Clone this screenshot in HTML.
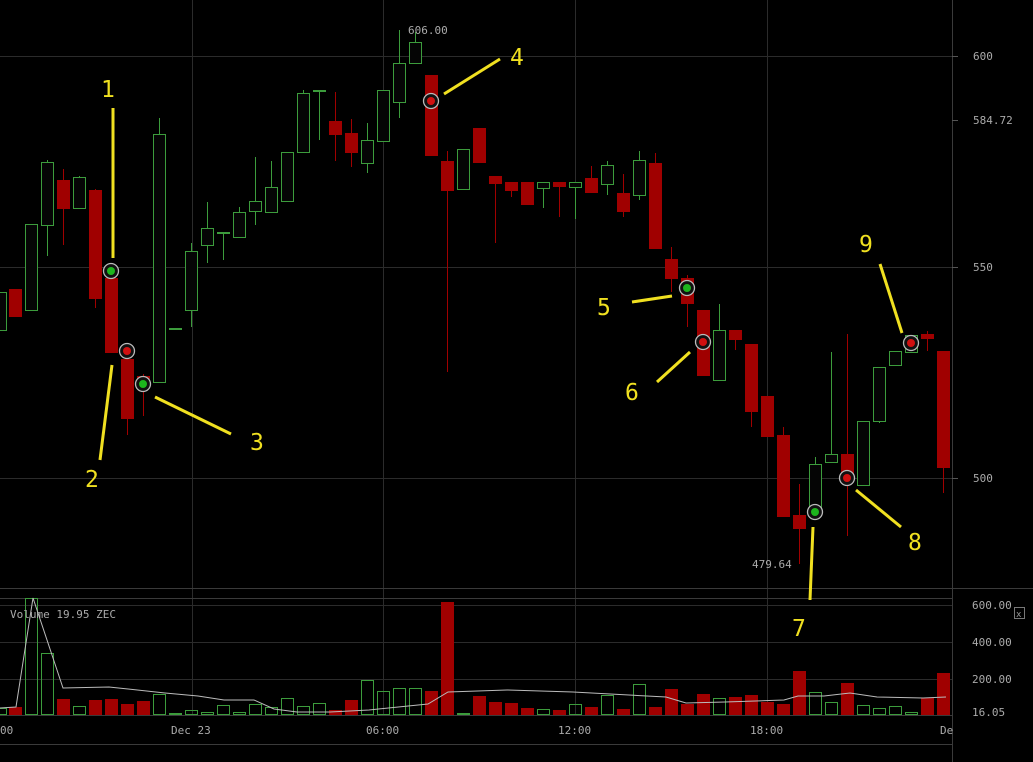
<!DOCTYPE html>
<html><head><meta charset="utf-8"><style>
html,body{margin:0;padding:0;background:#000;width:1033px;height:762px;overflow:hidden}
svg{display:block}
text{font-family:"DejaVu Sans Mono","Liberation Mono",monospace}
</style></head><body>
<svg id="s" width="1033" height="762" xmlns="http://www.w3.org/2000/svg">
<rect width="1033" height="762" fill="#000"/>
<g stroke="#2b2b2b" stroke-width="1">
<line x1="0" y1="56.5" x2="952" y2="56.5"/><line x1="0" y1="267.5" x2="952" y2="267.5"/><line x1="0" y1="478.5" x2="952" y2="478.5"/>
<line x1="192.5" y1="0" x2="192.5" y2="715"/><line x1="383.5" y1="0" x2="383.5" y2="715"/><line x1="575.5" y1="0" x2="575.5" y2="715"/><line x1="767.5" y1="0" x2="767.5" y2="715"/>
<line x1="0" y1="605.5" x2="952" y2="605.5"/><line x1="0" y1="642.5" x2="952" y2="642.5"/><line x1="0" y1="679.5" x2="952" y2="679.5"/>
</g>
<g stroke="#3a3a3a"><line x1="0" y1="588.5" x2="1033" y2="588.5"/><line x1="0" y1="598.5" x2="952" y2="598.5"/><line x1="952.5" y1="0" x2="952.5" y2="762"/><line x1="0" y1="744.5" x2="952" y2="744.5"/><line x1="0" y1="715.5" x2="952" y2="715.5"/></g>
<g id="c"></g>
<g id="v"></g>
<g fill="#aaa" font-size="11">
<text x="973" y="60">600</text><text x="973" y="124">584.72</text><text x="973" y="271">550</text><text x="973" y="482">500</text>
<text x="408" y="34">606.00</text><text x="752" y="568">479.64</text>
<text x="10" y="618">Volume 19.95 ZEC</text>
<text x="972" y="609">600.00</text><text x="972" y="646">400.00</text><text x="972" y="683">200.00</text><text x="972" y="716">16.05</text>
<text x="0" y="734">00</text><text x="171" y="734">Dec 23</text><text x="366" y="734">06:00</text><text x="558" y="734">12:00</text><text x="750" y="734">18:00</text><text x="940" y="734">De</text>
</g>
<g stroke="#555"><line x1="952" y1="56.5" x2="958" y2="56.5"/><line x1="952" y1="267.5" x2="958" y2="267.5"/><line x1="952" y1="478.5" x2="958" y2="478.5"/><line x1="952" y1="120.5" x2="958" y2="120.5"/></g>
<rect x="1014.5" y="607.5" width="10" height="11" fill="none" stroke="#777"/><text x="1016" y="617" fill="#999" font-size="9">x</text>
<polyline fill="none" stroke="#bbb" stroke-width="1" points="0,708 16,707 33,598 63,688 109,687 165,693 198,696 224,700 254,700 274,709 297,712 330,712 369,710 428,704 448,692 507,690 573,692 666,697 686,703 725,702 784,700 798,696 824,696 850,693 877,697 923,698 946,697"/>
<g id="m"></g>
<g stroke="#f0e020" stroke-width="3">
<line x1="113" y1="108" x2="113" y2="258"/><line x1="100" y1="460" x2="112" y2="365"/><line x1="155" y1="397" x2="231" y2="434"/>
<line x1="444" y1="94" x2="500" y2="59"/><line x1="632" y1="302" x2="672" y2="296"/><line x1="657" y1="382" x2="690" y2="352"/>
<line x1="813" y1="527" x2="810" y2="600"/><line x1="856" y1="490" x2="901" y2="527"/><line x1="880" y1="264" x2="902" y2="333"/>
</g>
<g fill="#f0e020" font-size="23" font-family="Liberation Sans,sans-serif" style="font-family:'Liberation Sans',sans-serif">
<text x="101" y="97">1</text><text x="85" y="487">2</text><text x="250" y="450">3</text><text x="510" y="65">4</text><text x="597" y="315">5</text><text x="625" y="400">6</text><text x="792" y="636">7</text><text x="908" y="550">8</text><text x="859" y="252">9</text>
</g>
</svg>
<script>
var NS="http://www.w3.org/2000/svg";
function el(p,t,a){var e=document.createElementNS(NS,t);for(var k in a)e.setAttribute(k,a[k]);p.appendChild(e);return e;}
var G="#3c9c3c",R="#a00000";
// x,type,bt,bb,wt,wb
var C=[[0,'g',292,330,292,330],[15,'r',289,316,289,316],[31,'g',224,310,224,310],[47,'g',162,225,160,256],[63,'r',180,208,169,245],[79,'g',177,208,176,208],
[95,'r',190,298,189,308],[111,'r',278,352,278,352],[127,'r',359,418,359,435],[143,'r',376,378,374,416],[159,'g',134,382,118,382],[175,'g',328,328,328,328],
[191,'g',251,310,243,327],[207,'g',228,245,202,263],[223,'g',232,232,232,260],[239,'g',212,237,207,237],[255,'g',201,211,157,225],[271,'g',187,212,161,212],
[287,'g',152,201,152,201],[303,'g',93,152,90,152],[319,'g',90,90,90,140],[335,'r',121,134,92,161],[351,'r',133,152,119,167],[367,'g',140,163,123,173],
[383,'g',90,141,90,141],[399,'g',63,102,30,118],[415,'g',42,63,32,63],[431,'r',75,155,75,155],[447,'r',161,190,151,372],[463,'g',149,189,149,189],
[479,'r',128,162,128,162],[495,'r',176,183,176,243],[511,'r',182,190,182,197],[527,'r',182,204,182,204],[543,'g',182,188,182,208],[559,'r',182,186,182,217],
[575,'g',182,187,182,219],[591,'r',178,192,166,192],[607,'g',165,184,161,195],[623,'r',193,211,174,217],[639,'g',160,195,151,200],[655,'r',163,248,153,248],
[671,'r',259,278,247,292],[687,'r',278,303,275,327],[703,'r',310,375,310,375],[719,'g',330,380,304,380],[735,'r',330,339,330,350],[751,'r',344,411,344,427],
[767,'r',396,436,396,436],[783,'r',435,516,427,516],[799,'r',515,528,484,564],[815,'g',464,510,457,510],[831,'g',454,462,352,462],[847,'r',454,478,334,536],
[863,'g',421,485,421,485],[879,'g',367,421,367,423],[895,'g',351,365,351,365],[911,'g',335,352,335,352],[927,'r',334,338,331,351],[943,'r',351,467,351,493]];
var V=[708,707,598,653,699,706,700,699,704,701,694,713,710,712,705,712,704,707,698,706,703,710,700,680,691,688,688,691,602,713,696,702,703,708,709,710,704,707,695,709,684,707,689,704,694,698,697,695,702,704,671,692,702,683,705,708,706,712,698,673];
var cg=document.getElementById('c'),vg=document.getElementById('v');
C.forEach(function(c,i){var x=c[0],col=c[1]=='g'?G:R;
 if(c[4]<c[2]||c[5]>c[3])el(cg,'line',{x1:x+.5,x2:x+.5,y1:c[4],y2:c[5],stroke:col});
 var h=Math.max(c[3]-c[2],1);
 if(c[1]=='g')el(cg,'rect',{x:x-5.5,y:c[2]+.5,width:12,height:h,fill:'#050505',stroke:col});
 else el(cg,'rect',{x:x-6,y:c[2],width:13,height:h+1,fill:col});
 var t=V[i],vx=x;
 if(c[1]=='g')el(vg,'rect',{x:vx-5.5,y:t+.5,width:12,height:714-t,fill:'none',stroke:G});
 else el(vg,'rect',{x:vx-6,y:t,width:13,height:715-t,fill:R});
});
var M=[[111,271,'#1db51d'],[127,351,'#d01010'],[143,384,'#1db51d'],[431,101,'#d01010'],[687,288,'#1db51d'],[703,342,'#d01010'],[815,512,'#1db51d'],[847,478,'#d01010'],[911,343,'#d01010']];
var mg=document.getElementById('m');
M.forEach(function(m){el(mg,'circle',{cx:m[0],cy:m[1],r:7.5,fill:'#111',stroke:'#bbb','stroke-width':1.3});el(mg,'circle',{cx:m[0],cy:m[1],r:4,fill:m[2]});});
</script>
</body></html>
